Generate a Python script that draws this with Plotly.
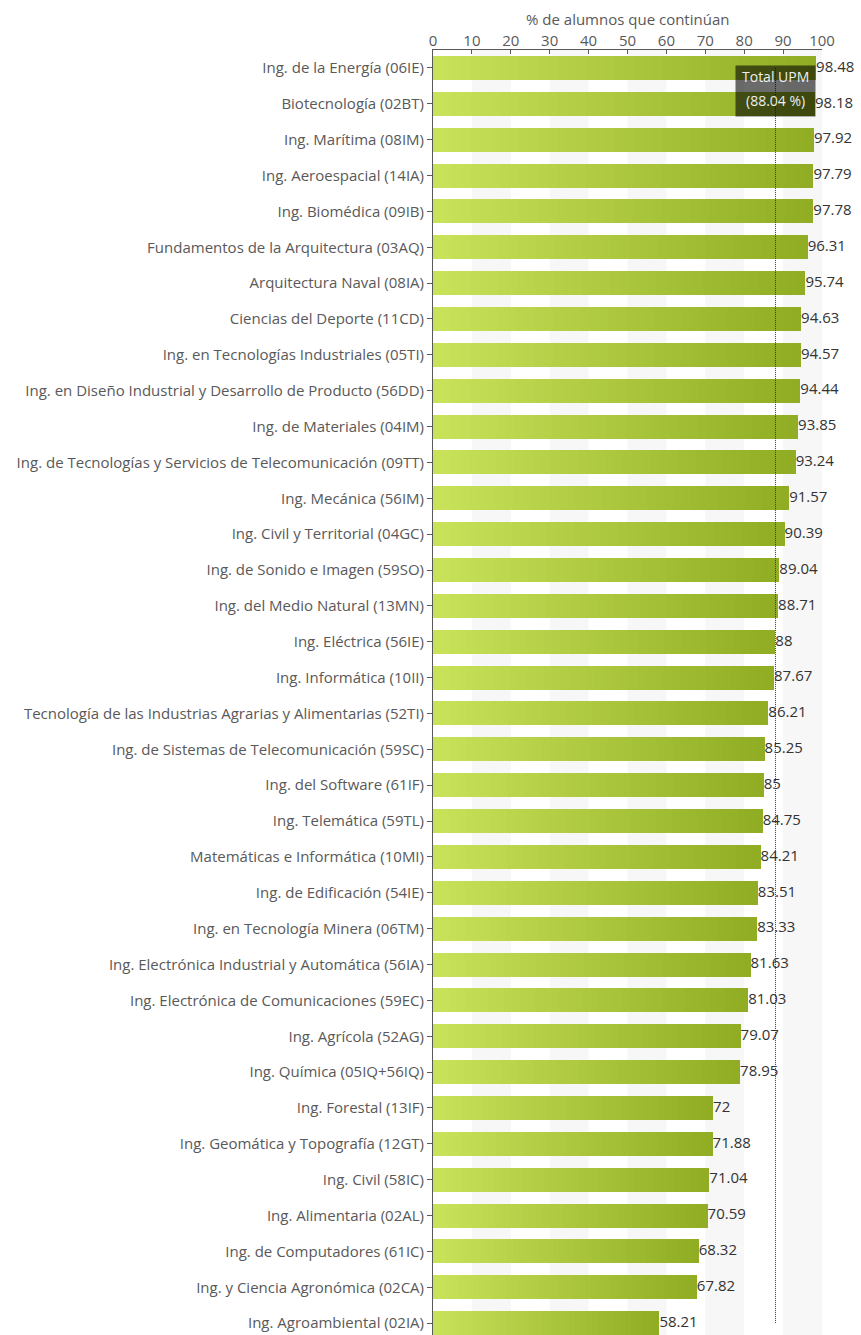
import plotly.graph_objects as go

categories = [
    "Ing. de la Energía (06IE)",
    "Biotecnología (02BT)",
    "Ing. Marítima (08IM)",
    "Ing. Aeroespacial (14IA)",
    "Ing. Biomédica (09IB)",
    "Fundamentos de la Arquitectura (03AQ)",
    "Arquitectura Naval (08IA)",
    "Ciencias del Deporte (11CD)",
    "Ing. en Tecnologías Industriales (05TI)",
    "Ing. en Diseño Industrial y Desarrollo de Producto (56DD)",
    "Ing. de Materiales (04IM)",
    "Ing. de Tecnologías y Servicios de Telecomunicación (09TT)",
    "Ing. Mecánica (56IM)",
    "Ing. Civil y Territorial (04GC)",
    "Ing. de Sonido e Imagen (59SO)",
    "Ing. del Medio Natural (13MN)",
    "Ing. Eléctrica (56IE)",
    "Ing. Informática (10II)",
    "Tecnología de las Industrias Agrarias y Alimentarias (52TI)",
    "Ing. de Sistemas de Telecomunicación (59SC)",
    "Ing. del Software (61IF)",
    "Ing. Telemática (59TL)",
    "Matemáticas e Informática (10MI)",
    "Ing. de Edificación (54IE)",
    "Ing. en Tecnología Minera (06TM)",
    "Ing. Electrónica Industrial y Automática (56IA)",
    "Ing. Electrónica de Comunicaciones (59EC)",
    "Ing. Agrícola (52AG)",
    "Ing. Química (05IQ+56IQ)",
    "Ing. Forestal (13IF)",
    "Ing. Geomática y Topografía (12GT)",
    "Ing. Civil (58IC)",
    "Ing. Alimentaria (02AL)",
    "Ing. de Computadores (61IC)",
    "Ing. y Ciencia Agronómica (02CA)",
    "Ing. Agroambiental (02IA)",
]
values = [98.48, 98.18, 97.92, 97.79, 97.78, 96.31, 95.74, 94.63, 94.57, 94.44,
          93.85, 93.24, 91.57, 90.39, 89.04, 88.71, 88, 87.67, 86.21, 85.25,
          85, 84.75, 84.21, 83.51, 83.33, 81.63, 81.03, 79.07, 78.95, 72,
          71.88, 71.04, 70.59, 68.32, 67.82, 58.21]
total_upm = 88.04
x_ticks = list(range(0, 101, 10))
axis_title = "% de alumnos que continúan"

FONT = "Open Sans"
GRAY = "#595959"
left_rgb = (201, 227, 91)
right_rgb = (143, 172, 34)
K = 40

fig = go.Figure()
for k in range(K):
    t = (k + 0.5) / K
    c = tuple(round(left_rgb[i] + (right_rgb[i] - left_rgb[i]) * t) for i in range(3))
    fig.add_trace(go.Bar(
        y=categories, x=[v / K for v in values], orientation="h",
        marker=dict(color="rgb(%d,%d,%d)" % c, line=dict(width=0)),
        width=0.67, hoverinfo="skip", showlegend=False,
    ))

fig.add_trace(go.Scatter(
    y=categories, x=values, mode="text",
    text=["%g" % v for v in values], textposition="middle right",
    textfont=dict(family=FONT, size=15, color="#333333"),
    hoverinfo="skip", showlegend=False, cliponaxis=False,
))

shapes = []
for a in x_ticks[1::2]:
    shapes.append(dict(type="rect", xref="x", yref="paper", x0=a, x1=a + 10, y0=0, y1=1,
                       fillcolor="#f7f7f7", line=dict(width=0), layer="below"))
shapes.append(dict(type="line", xref="x", yref="y", x0=total_upm, x1=total_upm,
                   y0=categories[0], y1=categories[-1],
                   line=dict(color="#1f1fff", width=1, dash="1px,1px"), layer="above"))

annotations = [
    dict(x=total_upm, y=0.5, xref="x", yref="y", text=" ", showarrow=False,
         width=79, height=50, bgcolor="rgba(0,0,0,0.58)", borderpad=0, yshift=-5),
    dict(x=total_upm, y=0.5, xref="x", yref="y", text="Total UPM", showarrow=False,
         font=dict(family=FONT, size=14, color="#eeeeee"), yshift=9),
    dict(x=total_upm, y=0.5, xref="x", yref="y", text="(%.2f %%)" % total_upm, showarrow=False,
         font=dict(family=FONT, size=14, color="#eeeeee"), yshift=-15),
    dict(x=0.5, y=1, xref="paper", yref="paper", text=axis_title, showarrow=False,
         yanchor="middle", yshift=31, font=dict(family=FONT, size=15, color=GRAY)),
]

fig.update_layout(
    width=861, height=1335,
    margin=dict(l=433, r=39, t=50, b=0, autoexpand=False),
    barmode="stack", bargap=0.33,
    plot_bgcolor="white", paper_bgcolor="white",
    font=dict(family=FONT, size=15, color=GRAY),
    shapes=shapes,
    annotations=annotations,
    xaxis=dict(
        side="top", range=[0, 100], tickvals=x_ticks, automargin=False,
        ticks="inside", ticklen=4, tickcolor=GRAY, ticklabelstandoff=-3,
        showline=True, linecolor=GRAY, linewidth=1, showgrid=False, zeroline=False,
        tickfont=dict(size=15, color=GRAY),
    ),
    yaxis=dict(
        type="category", categoryorder="array", categoryarray=categories,
        range=[35.33, -0.5], automargin=False,
        ticks="outside", ticklen=5, tickcolor=GRAY,
        showline=True, linecolor=GRAY, linewidth=1, showgrid=False,
        tickfont=dict(size=15, color=GRAY),
    ),
)

fig.write_html(
    "out.html",
    config={"displayModeBar": False},
    post_script="document.body.style.margin='0';document.body.style.overflow='hidden';",
)
